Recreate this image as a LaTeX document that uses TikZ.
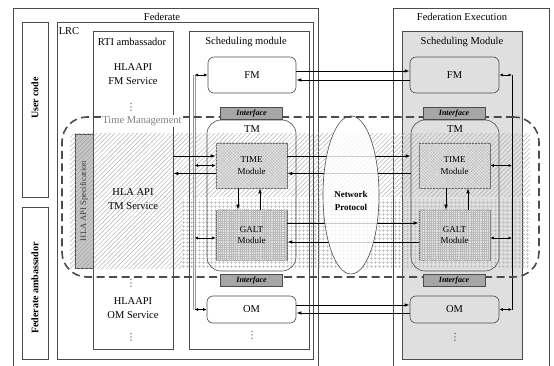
\documentclass[tikz,border=0pt]{standalone}
\usepackage{fontspec}
\setmainfont{Liberation Serif}
\newfontfamily\dejavu{DejaVu Sans}
\usetikzlibrary{arrows.meta,patterns.meta,shapes.geometric}
\begin{document}
\begin{tikzpicture}[x=1pt,y=-1pt,
  font=\fontsize{10.5}{13}\selectfont,
  wh/.style 2 args={minimum width=#1pt, minimum height=#2pt},
  box/.style={draw=black!70, line width=0.6pt, inner sep=0pt},
  rbox/.style={box, rounded corners=6pt},
  tmbox/.style={box, rounded corners=14pt},
  modbox/.style={draw=black!60, line width=0.6pt, inner sep=0pt, fill=gray!22, minimum width=71pt},
  iface/.style={draw=black!70, line width=0.6pt, fill=black!35, inner sep=0pt, minimum width=62pt, minimum height=12pt, font=\bfseries\itshape\fontsize{8}{9}\selectfont},
  vlabel/.style={rotate=90, font=\bfseries\fontsize{10}{12}\selectfont},
  txt/.style={align=center, inner sep=0pt},
  vdot/.style={inner sep=0pt, text=black!70, font=\dejavu\fontsize{10}{12}\selectfont},
  small/.style={align=center, inner sep=0pt, font=\fontsize{9}{11.5}\selectfont},
  arr/.style={line width=0.8pt, -{Latex[length=5pt,width=3.5pt]}},
  darr/.style={line width=0.7pt, {Latex[length=3.5pt,width=3pt]}-{Latex[length=3.5pt,width=3pt]}},
  frame/.style={draw=black!70, line width=0.6pt},
  hatchA/.style={pattern={Lines[angle=45,distance=3.2pt,line width=0.5pt]}, pattern color=gray!60},
  gridB/.style={pattern={Hatch[angle=0,distance=4pt,line width=0.45pt]}, pattern color=gray!55},
]
\useasboundingbox (0,0) rectangle (554,366);

% outer frames (open at the bottom)
\draw[frame] (13,366) -- (13,8) -- (318,8) -- (318,366);
\draw[frame] (393,366) -- (393,8) -- (549,8) -- (549,366);
\node[txt] (fedt) at (162,17) {Federate};
\node[txt] (fext) at (462,17) {Federation Execution};

% right scheduling module background
\node[box, fill=gray!25, wh={120}{328}] (schr) at (462,195) {};

% patterned regions
\fill[hatchA] (70,134) rectangle (530,197);
\fill[hatchA] (70,197) rectangle (182,268);
\fill[gridB] (182,200) rectangle (530,268);

% left boxes
\node[box, wh={26}{175}] (uc) at (35,109.5) {};
\node[vlabel] (uct) at (35,98) {User code};
\node[box, wh={26}{152}] (fa) at (35,283) {};
\node[vlabel] (fat) at (35,288) {Federate ambassador};
\node[box, wh={256}{337}] (lrc) at (185,190.5) {};
\node[txt] (lrct) at (69,31) {LRC};
\node[box, wh={80}{318}] (rti) at (133,190) {};
\node[txt] (rtit) at (132,42) {RTI ambassador};
\node[box, wh={120}{318}] (schl) at (249,190) {};
\node[txt] (schlt) at (246,42) {Scheduling module};
\node[txt] (schrt) at (462,42) {Scheduling Module};

% spec box
\node[box, fill=gray!45, wh={18}{134}] (spec) at (84,201) {};
\fill[pattern={Lines[angle=45,distance=3pt,line width=0.4pt]}, pattern color=gray!75] (spec.north west) rectangle (spec.south east);
\node[rotate=90, inner sep=0pt, text=black!75, font=\fontsize{8.5}{10}\selectfont] (spect) at (84,201) {HLA API Specification};

% RTI texts
\node[txt, font=\fontsize{10.5}{14}\selectfont] (fms) at (133,74) {HLAAPI\\FM Service};
\node[vdot] (d1) at (131,107) {⋮};
\node[txt, font=\fontsize{10.5}{14}\selectfont] (tms) at (133,199) {HLA API\\TM Service};
\node[vdot] (d2) at (131,283) {⋮};
\node[txt, font=\fontsize{10.5}{14}\selectfont] (oms) at (133,308) {HLAAPI\\OM Service};
\node[vdot] (d3) at (131,337) {⋮};

% scheduling module contents (left)
\node[rbox, wh={88}{36}] (FMl) at (252,75) {FM};
\node[tmbox, wh={89}{151}] (TMl) at (251.5,195.5) {};
\node[txt] (TMlt) at (252,129) {TM};
\node[rbox, wh={89}{27}] (OMl) at (251.5,309.5) {OM};
\node[vdot] (d4) at (252,335) {⋮};
\node[modbox, wh={71}{45}] (TIMEl) at (251.5,165.5) {};
\fill[pattern={Hatch[angle=45,distance=2.2pt,line width=0.3pt]}, pattern color=gray!55] (TIMEl.north west) rectangle (TIMEl.south east);
\node[small] (TIMElt) at (TIMEl) {TIME\\Module};
\node[modbox, wh={71}{50}] (GALTl) at (251.5,235) {};
\fill[pattern={Hatch[angle=0,distance=2.2pt,line width=0.3pt]}, pattern color=gray!55] (GALTl.north west) rectangle (GALTl.south east);
\node[small] (GALTlt) at (GALTl) {GALT\\Module};

% scheduling module contents (right)
\node[rbox, wh={89}{36}] (FMr) at (454.5,75) {FM};
\node[tmbox, wh={88}{151}] (TMr) at (455,195.5) {};
\node[txt] (TMrt) at (455,129) {TM};
\node[rbox, wh={89}{27}] (OMr) at (454.5,309.5) {OM};
\node[vdot] (d5) at (455,337) {⋮};
\node[modbox, wh={71}{45}] (TIMEr) at (454.5,165.5) {};
\fill[pattern={Hatch[angle=45,distance=2.2pt,line width=0.3pt]}, pattern color=gray!55] (TIMEr.north west) rectangle (TIMEr.south east);
\node[small] (TIMErt) at (TIMEr) {TIME\\Module};
\node[modbox, wh={71}{50}] (GALTr) at (454.5,235) {};
\fill[pattern={Hatch[angle=0,distance=2.2pt,line width=0.3pt]}, pattern color=gray!55] (GALTr.north west) rectangle (GALTr.south east);
\node[small] (GALTrt) at (GALTr) {GALT\\Module};

% vertical connector rails
\coordinate (gtop) at (194.5,75);
\coordinate (gbot) at (194.5,309.5);
\draw[draw=gray!80, line width=2.4pt] (gtop) -- (gbot);
\draw[draw=white!92!gray, line width=0.9pt] (gtop) -- (gbot);
\coordinate (rtop) at (512,75);
\coordinate (rbot) at (512,309.5);
\draw[line width=0.6pt] (rtop) -- (rbot);

% short double arrows
\draw[darr] (gtop) -- (FMl.west);
\draw[darr] (gtop |- TIMEl.west) -- (TIMEl.west);
\coordinate (gal) at ([yshift=-3pt]GALTl.west);
\draw[darr] (gtop |- gal) -- (gal);
\draw[darr] (gbot) -- (OMl.west);
\draw[darr] (FMr.east) -- (rtop);
\draw[darr] (TIMEr.east) -- (rtop |- TIMEr.east);
\coordinate (gar) at ([yshift=-3pt]GALTr.east);
\draw[darr] (gar) -- (rtop |- gar);
\draw[darr] (OMr.east) -- (rbot);

% FM / OM exchange
\draw[arr] ([yshift=4pt]FMl.east) -- ([yshift=4pt]FMr.west);
\draw[arr] ([yshift=-5pt]FMr.west) -- ([yshift=-5pt]FMl.east);
\draw[arr] ([yshift=4.5pt]OMl.east) -- ([yshift=4.5pt]OMr.west);
\draw[arr] ([yshift=-3.5pt]OMr.west) -- ([yshift=-3.5pt]OMl.east);

% RTI <-> TIME
\coordinate (t1) at ([yshift=9.5pt]TIMEl.west);
\coordinate (t2) at ([yshift=-8pt]TIMEl.west);
\draw[arr] (rti.east |- t1) -- (t1);
\draw[arr] (t2) -- (rti.east |- t2);

% TIME <-> TIME, GALT <-> GALT
\coordinate (t3) at ([yshift=9.5pt]TIMEl.east);
\coordinate (t4) at ([yshift=-8pt]TIMEl.east);
\draw[arr] (t3) -- (TMr.west |- t3);
\draw[arr] (TMr.west |- t4) -- (t4);
\draw[arr] ([yshift=12pt]GALTl.east) -- ([yshift=12pt]GALTr.west);
\draw[arr] ([yshift=-7pt]GALTr.west) -- ([yshift=-7pt]GALTl.east);

% TIME <-> GALT
\coordinate (v1) at ([xshift=-13.5pt]TIMEl.south);
\coordinate (v2) at ([xshift=8.5pt]GALTl.north);
\draw[arr, line width=0.6pt] (v1) -- (v1 |- GALTl.north);
\draw[arr, line width=0.6pt] (v2) -- (v2 |- TIMEl.south);
\coordinate (v3) at ([xshift=-8.5pt]TIMEr.south);
\coordinate (v4) at ([xshift=13.5pt]GALTr.north);
\draw[arr, line width=0.6pt] (v3) -- (v3 |- GALTr.north);
\draw[arr, line width=0.6pt] (v4) -- (v4 |- TIMEr.south);

% network protocol
\node[ellipse, draw=black!70, line width=0.6pt, fill=white, fill opacity=0.8, wh={56}{158}] (np) at (351,195) {};
\node[txt, font=\bfseries\fontsize{9}{12.5}\selectfont] (npt) at (351,201) {Network\\Protocol};

% time management area
\node[draw=black!70, line width=1.6pt, dash pattern=on 8pt off 4.5pt, rounded corners=25pt, wh={477}{160}] (tma) at (300.5,197) {};
\node[txt, fill=white, inner sep=1pt, text=black!50] (tmat) at (142,121) {Time Management};

% interfaces
\node[iface] (ifl1) at (251.5,113.5) {Interface};
\node[iface] (ifl2) at (251.5,280.5) {Interface};
\node[iface] (ifr1) at (454,113.5) {Interface};
\node[iface] (ifr2) at (454,280.5) {Interface};
\end{tikzpicture}
\end{document}
